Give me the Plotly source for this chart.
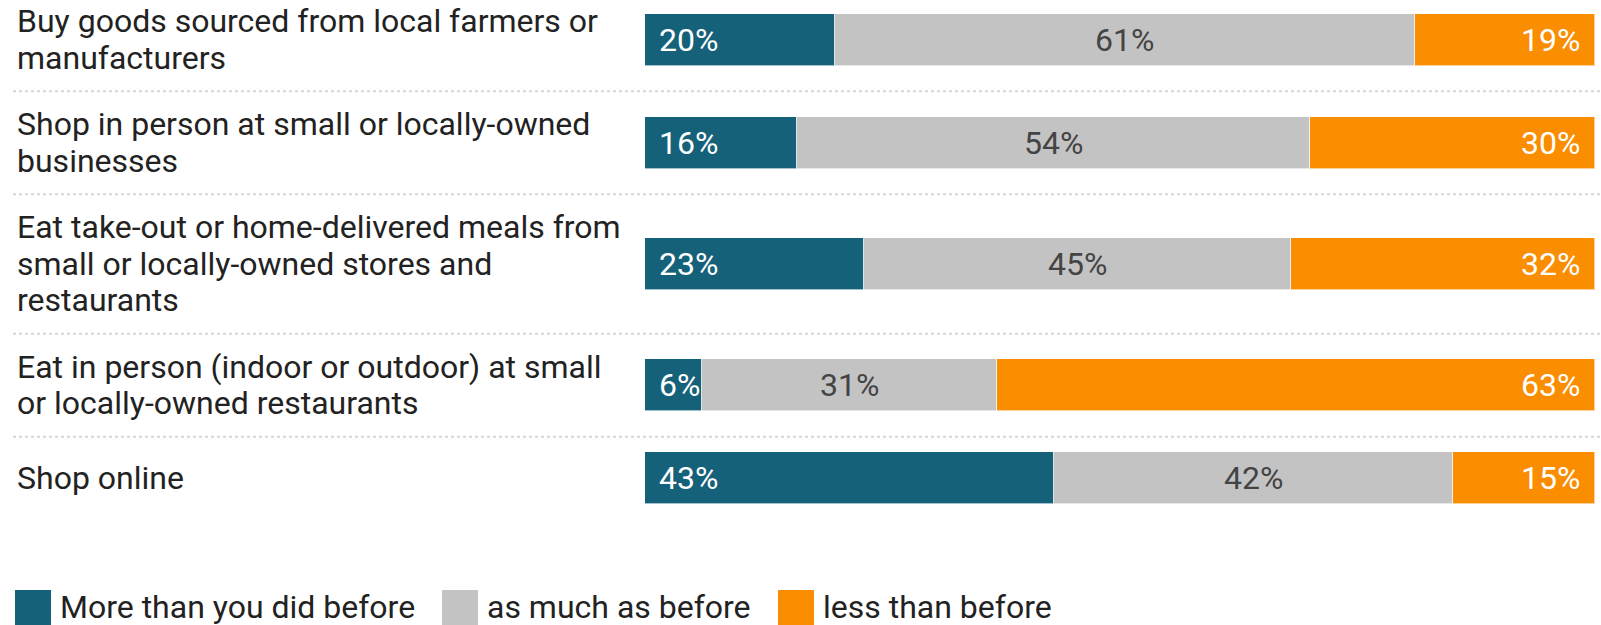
import plotly.graph_objects as go

# Survey items and response shares (%)
items = [
    ["Buy goods sourced from local farmers or", "manufacturers"],
    ["Shop in person at small or locally-owned", "businesses"],
    ["Eat take-out or home-delivered meals from", "small or locally-owned stores and", "restaurants"],
    ["Eat in person (indoor or outdoor) at small", "or locally-owned restaurants"],
    ["Shop online"],
]
more = [20, 16, 23, 6, 43]
same = [61, 54, 45, 31, 42]
less = [19, 30, 32, 63, 15]

series_names = ["More than you did before", "as much as before", "less than before"]
series_colors = ["#16617a", "#c3c3c3", "#fa8d00"]

W, H = 1601, 625
ML, MR = 645, 6
PLOT_W = W - ML - MR

# Row geometry (y units are pixels): each row grows with its label's line count
LINE = 36.5
BAR = 52
PAD = 15
TOP = -11.8
centers, seps = [], []
cur = TOP
for lab in items:
    n = len(lab)
    half = max(n * LINE / 2, BAR / 2) + PAD
    centers.append(cur + half)
    cur += 2 * half
    seps.append(cur)
seps = seps[:-1]

fig = go.Figure()
for name, vals, col in zip(series_names, [more, same, less], series_colors):
    fig.add_trace(go.Bar(
        y=centers, x=vals, orientation="h", name=name,
        marker=dict(color=col, line=dict(color="rgba(255,255,255,0.6)", width=1)),
        width=BAR, hoverinfo="skip", showlegend=False,
    ))

FONT = "Roboto, 'Noto Sans', sans-serif"
LABEL_SIZE = 32
annotations = []
# category labels, one annotation per line for a tight line pitch
for lab, c in zip(items, centers):
    n = len(lab)
    for i, line in enumerate(lab):
        annotations.append(dict(
            x=(15 - ML) / PLOT_W, xref="paper", y=c + (i - (n - 1) / 2) * LINE, yref="y",
            text=line, showarrow=False, xanchor="left", yanchor="middle", align="left",
            font=dict(family=FONT, size=LABEL_SIZE, color="#222222"),
        ))
# value labels
PCT = 32
for c, m, s, l in zip(centers, more, same, less):
    annotations.append(dict(x=0, y=c, xref="x", yref="y", text=f"{m}%", showarrow=False,
                            xanchor="left", xshift=12, yanchor="middle",
                            font=dict(family=FONT, size=PCT, color="white")))
    annotations.append(dict(x=m + s / 2, y=c, xref="x", yref="y", text=f"{s}%", showarrow=False,
                            xanchor="center", yanchor="middle",
                            font=dict(family=FONT, size=PCT, color="#444444")))
    annotations.append(dict(x=100, y=c, xref="x", yref="y", text=f"{l}%", showarrow=False,
                            xanchor="right", xshift=-13, yanchor="middle",
                            font=dict(family=FONT, size=PCT, color="white")))

shapes = []
# dotted separators between rows
for sy in seps:
    shapes.append(dict(type="line", xref="paper", yref="y",
                       x0=(13 - ML) / PLOT_W, x1=(W - ML) / PLOT_W, y0=sy, y1=sy,
                       line=dict(color="#d6d6d6", width=2, dash="dot")))

# legend row along the bottom
def px_x(p):
    return (p - ML) / PLOT_W

def px_y(p):
    return 1 - p / H

leg_x = [15, 442, 778]
for x0, name, col in zip(leg_x, series_names, series_colors):
    shapes.append(dict(type="rect", xref="paper", yref="paper",
                       x0=px_x(x0), x1=px_x(x0 + 36), y0=px_y(630), y1=px_y(590),
                       fillcolor=col, line=dict(width=0)))
    annotations.append(dict(x=px_x(x0 + 43), y=px_y(607), xref="paper", yref="paper",
                            text=name, showarrow=False, xanchor="left", yanchor="middle",
                            font=dict(family=FONT, size=LABEL_SIZE, color="#222222")))

fig.update_layout(
    width=W, height=H, barmode="stack",
    margin=dict(l=ML, r=MR, t=0, b=0),
    paper_bgcolor="white", plot_bgcolor="white",
    xaxis=dict(range=[0, 100], visible=False, fixedrange=True),
    yaxis=dict(range=[H, 0], visible=False, fixedrange=True),
    bargap=0, annotations=annotations, shapes=shapes,
)

fig.write_html("out.html")
